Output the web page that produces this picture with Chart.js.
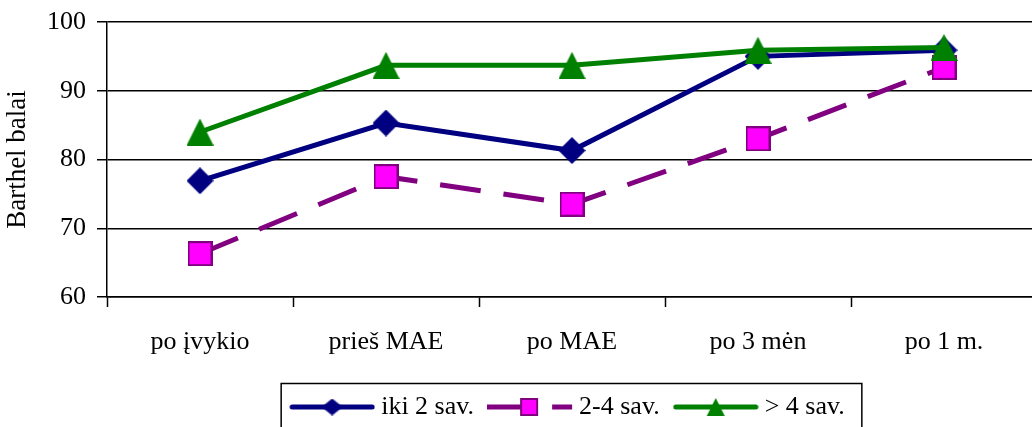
<!DOCTYPE html>
<html>
<head>
<meta charset="utf-8">
<style>
  html, body { margin: 0; padding: 0; background: #ffffff; overflow: hidden; }
  #wrap { width: 1040px; height: 440px; }
</style>
<script src="https://cdn.jsdelivr.net/npm/chart.js@4.4.1/dist/chart.umd.min.js"></script>
</head>
<body>
<div id="wrap"><canvas id="chart" width="1040" height="440"></canvas></div>
<script>
// Barthel index scores by time point, grouped by time to rehabilitation
const categories = ['po įvykio', 'prieš MAE', 'po MAE', 'po 3 mėn', 'po 1 m.'];
const seriesNames = ['iki 2 sav.', '2-4 sav.', '> 4 sav.'];
const iki2sav = [76.9, 85.3, 81.3, 95.0, 95.9];
const sav2to4 = [66.3, 77.5, 73.5, 83.0, 93.4];
const virs4sav = [84.0, 93.7, 93.7, 95.9, 96.3];
const yTicks = [60, 70, 80, 90, 100];
const yTitle = 'Barthel balai';

const FONT = 'Liberation Serif, Times New Roman, serif';
const NAVY = '#000080';
const PURPLE = '#800080';
const MAGENTA = '#ff00ff';
const GREEN = '#008000';

// ---- marker sprites ----
function sprite(w, h, paint) {
  const c = document.createElement('canvas');
  c.width = w; c.height = h;
  paint(c.getContext('2d'), w, h);
  return c;
}
function diamond(w, h) {
  return sprite(w, h, (g) => {
    g.fillStyle = NAVY;
    g.beginPath();
    g.moveTo(w / 2, 0); g.lineTo(w, h / 2); g.lineTo(w / 2, h); g.lineTo(0, h / 2);
    g.closePath(); g.fill();
  });
}
function square(s) {
  return sprite(s, s, (g) => {
    g.fillStyle = MAGENTA;
    g.fillRect(0, 0, s, s);
    g.strokeStyle = PURPLE; g.lineWidth = 2;
    g.strokeRect(1, 1, s - 2, s - 2);
  });
}
function triangle(w, h) {
  return sprite(w, h, (g) => {
    g.fillStyle = GREEN;
    g.beginPath();
    g.moveTo(w / 2, 0); g.lineTo(w, h); g.lineTo(0, h);
    g.closePath(); g.fill();
  });
}

// ---- legend samples: line with marker in the middle ----
const SAMPLE_W = 86, SAMPLE_H = 26;
function sampleSolid(color, marker) {
  return sprite(SAMPLE_W, SAMPLE_H, (g, w, h) => {
    g.strokeStyle = color; g.lineWidth = 5; g.lineCap = 'round';
    g.beginPath(); g.moveTo(3, h / 2); g.lineTo(w - 3, h / 2); g.stroke();
    g.drawImage(marker, (w - marker.width) / 2, (h - marker.height) / 2);
  });
}
function sampleDashed(color, marker) {
  return sprite(SAMPLE_W, SAMPLE_H, (g, w, h) => {
    g.strokeStyle = color; g.lineWidth = 5; g.lineCap = 'butt';
    g.beginPath();
    g.moveTo(0, h / 2); g.lineTo(40, h / 2);
    g.moveTo(65, h / 2); g.lineTo(85, h / 2);
    g.stroke();
    g.drawImage(marker, (w - marker.width) / 2 - 1, (h - marker.height) / 2);
  });
}

const legendSamples = [
  sampleSolid(NAVY, diamond(21, 17)),
  sampleDashed(PURPLE, square(18)),
  sampleSolid(GREEN, triangle(18, 18))
];

// ---- box around the legend entries ----
const LEGEND_SHIFT = 52;
const legendFrame = {
  id: 'legendFrame',
  afterLayout(chart) {
    chart.legend.left += LEGEND_SHIFT;
    chart.legend.right += LEGEND_SHIFT;
  },
  afterDraw(chart) {
    const boxes = chart.legend.legendHitBoxes;
    if (!boxes || !boxes.length) return;
    const first = boxes[0], last = boxes[boxes.length - 1];
    const x0 = first.left - 15;
    const x1 = last.left + last.width + 17;
    const y0 = chart.legend.top + 9.5;
    const g = chart.ctx;
    g.save();
    g.strokeStyle = '#000'; g.lineWidth = 1.5;
    g.strokeRect(x0, y0, x1 - x0, chart.height + 20 - y0);
    g.restore();
  }
};

// markers are sprites, so the point radius is kept tiny to avoid extra layout overflow
const markerOpts = { pointRadius: 1, pointHoverRadius: 1, pointBorderWidth: 0 };

new Chart(document.getElementById('chart'), {
  type: 'line',
  data: {
    labels: categories,
    datasets: [
      Object.assign({
        label: seriesNames[0], data: iki2sav, order: 3,
        borderColor: NAVY, borderWidth: 5, tension: 0,
        pointStyle: diamond(27, 27)
      }, markerOpts),
      Object.assign({
        label: seriesNames[1], data: sav2to4, order: 2,
        borderColor: PURPLE, borderWidth: 5, borderDash: [41, 23], borderCapStyle: 'butt', tension: 0,
        pointStyle: square(25)
      }, markerOpts),
      Object.assign({
        label: seriesNames[2], data: virs4sav, order: 1,
        borderColor: GREEN, borderWidth: 5, tension: 0,
        pointStyle: triangle(27, 27)
      }, markerOpts)
    ]
  },
  options: {
    responsive: false,
    animation: false,
    events: [],
    layout: { padding: { left: 0, right: 3, top: 22, bottom: 10 } },
    plugins: {
      title: { display: false },
      tooltip: { enabled: false },
      legend: {
        display: true,
        position: 'bottom',
        labels: {
          usePointStyle: true,
          pointStyleWidth: 72,
          padding: 20,
          color: '#000',
          font: { family: FONT, size: 26 },
          generateLabels(chart) {
            return chart.data.datasets.map((ds, i) => ({
              text: ds.label,
              datasetIndex: i,
              pointStyle: legendSamples[i],
              fillStyle: 'transparent',
              strokeStyle: 'transparent',
              lineWidth: 0,
              hidden: false,
              fontColor: '#000'
            }));
          }
        }
      }
    },
    scales: {
      x: {
        type: 'category',
        offset: true,
        afterFit(scale) {
          scale.height = 77;
          scale.paddingLeft = 0;
          scale.paddingRight = 0;
        },
        grid: {
          offset: true,
          drawOnChartArea: false,
          drawTicks: true,
          tickLength: 10,
          tickColor: '#000',
          tickWidth: 1.5,
          color: '#000'
        },
        border: { display: true, color: '#000', width: 1.5 },
        ticks: {
          color: '#000',
          padding: 20,
          maxRotation: 0,
          font: { family: FONT, size: 26 }
        }
      },
      y: {
        min: yTicks[0],
        max: yTicks[yTicks.length - 1],
        afterFit(scale) {
          scale.width = 107;
          scale.paddingTop = 0;
          scale.paddingBottom = 0;
        },
        afterBuildTicks(scale) { scale.ticks = yTicks.map(v => ({ value: v })); },
        grid: {
          color: '#000',
          lineWidth: 1.5,
          drawTicks: true,
          tickLength: 10,
          tickColor: '#000',
          tickWidth: 1.5
        },
        border: { display: true, color: '#000', width: 1.5 },
        ticks: {
          color: '#000',
          padding: 11,
          font: { family: FONT, size: 26 }
        },
        title: {
          display: true,
          text: yTitle,
          color: '#000',
          padding: { top: 2, bottom: 0 },
          font: { family: FONT, size: 27 }
        }
      }
    }
  },
  plugins: [legendFrame]
});
</script>
</body>
</html>
